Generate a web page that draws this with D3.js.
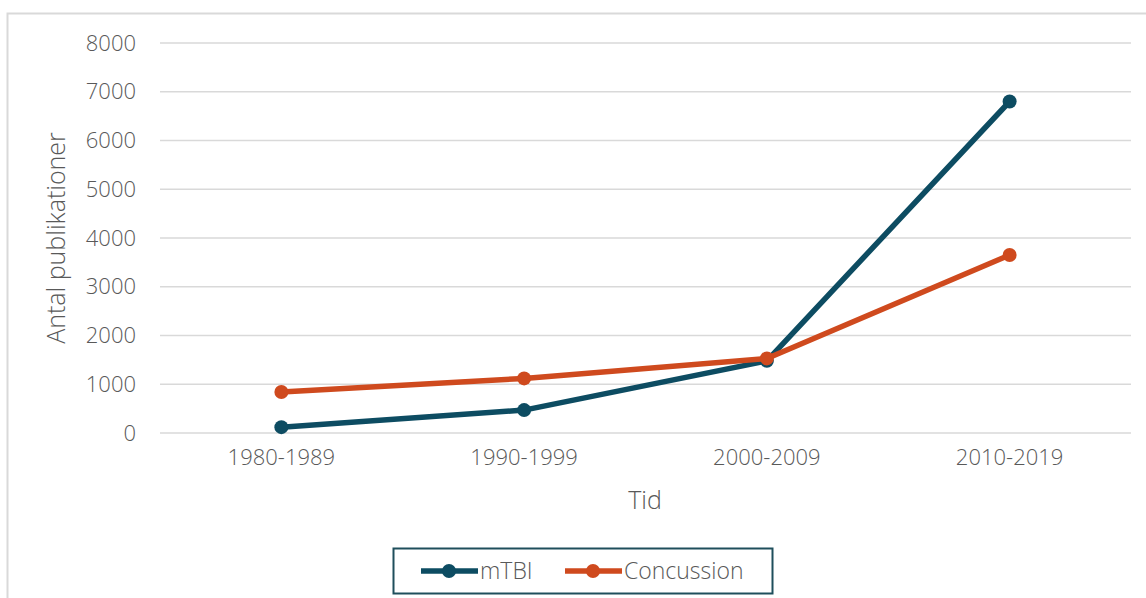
<!DOCTYPE html>
<html>
<head>
<meta charset="utf-8">
<script src="https://cdn.jsdelivr.net/npm/d3@7"></script>
<style>
  html, body { margin: 0; padding: 0; background: #fff; }
  svg { display: block; }
  svg text { font-family: "Open Sans", Lato, "Noto Sans", sans-serif; font-weight: 300; }
</style>
</head>
<body>
<svg id="chart" width="1146" height="598"></svg>
<script>
// Publications per decade
const categories = ["1980-1989", "1990-1999", "2000-2009", "2010-2019"];
const mtbiValues = [120, 470, 1480, 6800];
const concussionValues = [840, 1120, 1530, 3650];
const yTicks = [0, 1000, 2000, 3000, 4000, 5000, 6000, 7000, 8000];

const series = [
  { name: "mTBI", values: mtbiValues, color: "#0d4c62" },
  { name: "Concussion", values: concussionValues, color: "#cf4a1e" }
];

const svg = d3.select("#chart");
const W = 1146, H = 598;
const plot = { left: 160, right: 1131, top: 43, bottom: 433 };
const textColor = "#595959";

// Chart area frame
svg.append("path")
  .attr("d", `M7.5,${H} V13.5 H${W}`)
  .attr("fill", "none")
  .attr("stroke", "#d9d9d9")
  .attr("stroke-width", 2);

const x = d3.scaleBand().domain(categories).range([plot.left, plot.right]);
const y = d3.scaleLinear().domain([0, 8000]).range([plot.bottom, plot.top]);

// Horizontal gridlines
svg.append("g")
  .selectAll("line")
  .data(yTicks)
  .join("line")
  .attr("x1", plot.left).attr("x2", plot.right)
  .attr("y1", d => y(d)).attr("y2", d => y(d))
  .attr("stroke", "#d9d9d9").attr("stroke-width", 1.5);

// Y axis labels
const yAxis = d3.axisLeft(y).tickValues(yTicks).tickSize(0).tickPadding(0).tickFormat(d3.format("d"));
const gy = svg.append("g").attr("transform", `translate(136,0)`).call(yAxis)
  .attr("font-family", null).attr("font-size", null);
gy.select(".domain").remove();
gy.selectAll("text").attr("fill", textColor).attr("font-size", 22);

// X axis labels
const xAxis = d3.axisBottom(x).tickSize(0).tickPadding(0);
const gx = svg.append("g").attr("transform", `translate(0,449)`).call(xAxis)
  .attr("font-family", null).attr("font-size", null);
gx.select(".domain").remove();
gx.selectAll("text").attr("fill", textColor).attr("font-size", 22);

// Axis titles
svg.append("text")
  .attr("transform", "translate(65,238) rotate(-90)")
  .attr("text-anchor", "middle")
  .attr("fill", textColor)
  .attr("font-size", 25)
  .text("Antal publikationer");

svg.append("text")
  .attr("x", 645)
  .attr("y", 509)
  .attr("text-anchor", "middle")
  .attr("fill", textColor)
  .attr("font-size", 25)
  .text("Tid");

// Lines and markers
const line = d3.line()
  .x((d, i) => x(categories[i]) + x.bandwidth() / 2)
  .y(d => y(d));

series.forEach(s => {
  svg.append("path")
    .datum(s.values)
    .attr("d", line)
    .attr("fill", "none")
    .attr("stroke", s.color)
    .attr("stroke-width", 5.5)
    .attr("stroke-linejoin", "round");
  svg.append("g")
    .selectAll("circle")
    .data(s.values)
    .join("circle")
    .attr("cx", (d, i) => x(categories[i]) + x.bandwidth() / 2)
    .attr("cy", d => y(d))
    .attr("r", 7)
    .attr("fill", s.color);
});

// Legend
const legend = svg.append("g");
legend.append("rect")
  .attr("x", 393.5).attr("y", 548.5)
  .attr("width", 379).attr("height", 45)
  .attr("fill", "#fff")
  .attr("stroke", "#1f4f5c")
  .attr("stroke-width", 2);

const legendItems = [
  { s: series[0], x0: 421 },
  { s: series[1], x0: 565 }
];
legendItems.forEach(({ s, x0 }) => {
  legend.append("line")
    .attr("x1", x0).attr("x2", x0 + 57)
    .attr("y1", 571).attr("y2", 571)
    .attr("stroke", s.color).attr("stroke-width", 5.5);
  legend.append("circle")
    .attr("cx", x0 + 28).attr("cy", 571).attr("r", 7)
    .attr("fill", s.color);
  legend.append("text")
    .attr("x", x0 + 59).attr("y", 571)
    .attr("dy", "0.36em")
    .attr("fill", textColor)
    .attr("font-size", 23)
    .text(s.name);
});
</script>
</body>
</html>
